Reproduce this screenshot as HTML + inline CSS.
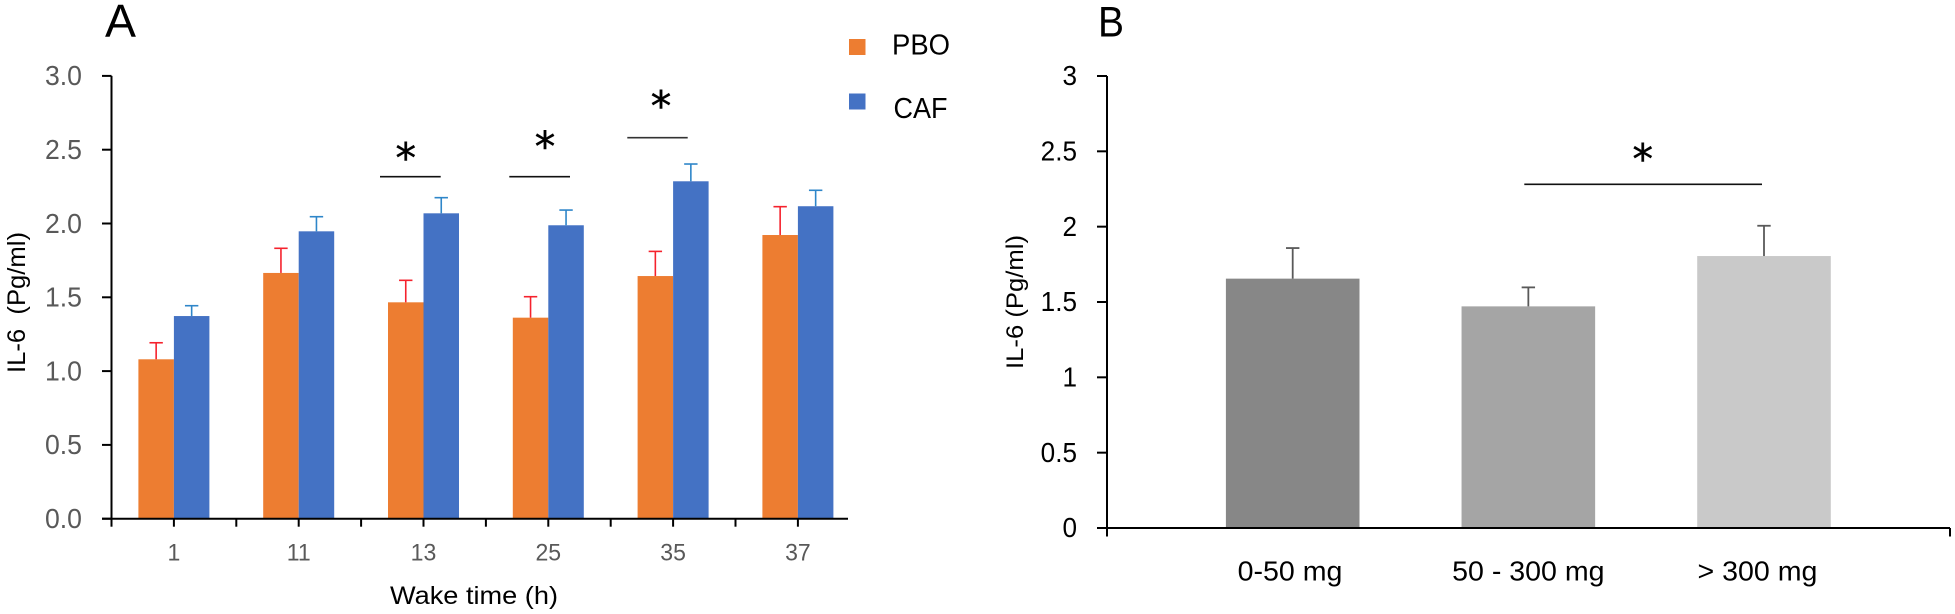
<!DOCTYPE html>
<html lang="en">
<head>
<meta charset="utf-8">
<title>IL-6 by wake time and caffeine dose</title>
<style>
  html, body { margin: 0; padding: 0; background: #fff; }
  body { width: 1955px; height: 614px; overflow: hidden; }
  svg { display: block; }
  text { font-family: "Liberation Sans", sans-serif; }
  text.star { font-family: "DejaVu Sans", sans-serif; stroke: #000; stroke-width: 0.5px; }
</style>
</head>
<body>
<svg id="figure" xmlns="http://www.w3.org/2000/svg" width="1955" height="614" viewBox="0 0 1955 614">
  <rect x="0" y="0" width="1955" height="614" fill="#ffffff"/>

  <g id="panel-a">
    <text x="105" y="37" font-size="46" textLength="31" lengthAdjust="spacingAndGlyphs" fill="#000">A</text>
    <text transform="translate(25,373) rotate(-90)" font-size="25" textLength="141" lengthAdjust="spacingAndGlyphs" fill="#000" xml:space="preserve">IL-6  (Pg/ml)</text>
    <text x="390" y="604" font-size="25" textLength="168" lengthAdjust="spacingAndGlyphs" fill="#000">Wake time (h)</text>
    <g>
      <rect x="849" y="39" width="16.5" height="16" fill="#ED7D31"/>
      <text x="892" y="54.5" font-size="29" textLength="58" lengthAdjust="spacingAndGlyphs" fill="#000">PBO</text>
      <rect x="849" y="93.5" width="16.5" height="16" fill="#4472C4"/>
      <text x="893.5" y="118" font-size="29" textLength="54" lengthAdjust="spacingAndGlyphs" fill="#000">CAF</text>
    </g>
    <line x1="380" x2="440.7" y1="176.7" y2="176.7" stroke="#111" stroke-width="1.6"/>
    <text class="star" x="405.7" y="172.4" font-size="41" text-anchor="middle" fill="#000">*</text>
    <line x1="509.3" x2="570" y1="176.7" y2="176.7" stroke="#111" stroke-width="1.6"/>
    <text class="star" x="545" y="161" font-size="41" text-anchor="middle" fill="#000">*</text>
    <line x1="627.3" x2="687.7" y1="137.7" y2="137.7" stroke="#333" stroke-width="1.6"/>
    <text class="star" x="661" y="120.4" font-size="41" text-anchor="middle" fill="#000">*</text>
  </g>

  <g id="panel-b">
    <text x="1098" y="36.7" font-size="43" textLength="26" lengthAdjust="spacingAndGlyphs" fill="#000">B</text>
    <text transform="translate(1023,369) rotate(-90)" font-size="24" textLength="134" lengthAdjust="spacingAndGlyphs" fill="#000">IL-6 (Pg/ml)</text>
    <line x1="1524.3" x2="1762" y1="184.3" y2="184.3" stroke="#111" stroke-width="1.6"/>
    <text class="star" x="1642.7" y="173.7" font-size="41" text-anchor="middle" fill="#000">*</text>
  </g>
</svg>

<script>
// Panel A data
const wakeCategories = ['1', '11', '13', '25', '35', '37'];
const pboValues = [1.08, 1.665, 1.466, 1.362, 1.644, 1.922];
const pboErrors = [0.112, 0.167, 0.149, 0.142, 0.167, 0.192];
const cafValues = [1.373, 1.947, 2.069, 1.988, 2.286, 2.117];
const cafErrors = [0.07, 0.099, 0.106, 0.103, 0.117, 0.108];
const wakeTickLabels = ['0.0', '0.5', '1.0', '1.5', '2.0', '2.5', '3.0'];

// Panel B data
const doseCategories = ['0-50 mg', '50 - 300 mg', '> 300 mg'];
const doseValues = [1.655, 1.471, 1.805];
const doseErrors = [0.203, 0.126, 0.201];
const doseTickLabels = ['0', '0.5', '1', '1.5', '2', '2.5', '3'];

const NS = 'http://www.w3.org/2000/svg';
const panelA = document.getElementById('panel-a');
const panelB = document.getElementById('panel-b');

function make(parent, tag, attrs, content) {
  const node = document.createElementNS(NS, tag);
  for (const key in attrs) node.setAttribute(key, attrs[key]);
  if (content !== undefined) node.textContent = content;
  parent.appendChild(node);
  return node;
}

// Axis functions
function yA(v) { return 518.7 - 147.6 * v; }
function yB(v) { return 528 - 150.67 * v; }
function bandA(v) { return 111.5 + 124.8 * v; }
function centerA(i) { return bandA(i + 0.5); }
function centerB(i) { return 1292.7 + 235.65 * i; }

const barWidthA = 35.5;
const barWidthB = 133.6;
const capHalf = 6.7;
const doseFills = ['#878787', '#A5A5A5', '#C9C9C9'];

function squeeze(node, ratio) {
  node.setAttribute('textLength', (node.getComputedTextLength() * ratio).toFixed(2));
  node.setAttribute('lengthAdjust', 'spacingAndGlyphs');
}

// ---------- Panel A ----------
wakeCategories.forEach(function (cat, i) {
  const c = centerA(i);

  const pboBar = make(panelA, 'rect', { x: c - barWidthA, y: yA(pboValues[i]), width: barWidthA, height: yA(0) - yA(pboValues[i]), fill: '#ED7D31' });
  
  

  const cafBar = make(panelA, 'rect', { x: c, y: yA(cafValues[i]), width: barWidthA, height: yA(0) - yA(cafValues[i]), fill: '#4472C4' });
  
  

  const pboX = c - barWidthA / 2;
  const pboTop = yA(pboValues[i] + pboErrors[i]);
  const pboStem = make(panelA, 'line', { x1: pboX, x2: pboX, y1: yA(pboValues[i]), y2: pboTop, stroke: '#F5222D', 'stroke-width': 1.6 });
  
  
  const pboCap = make(panelA, 'line', { x1: pboX - capHalf, x2: pboX + capHalf, y1: pboTop, y2: pboTop, stroke: '#F5222D', 'stroke-width': 1.6 });
  
  

  const cafX = c + barWidthA / 2;
  const cafTop = yA(cafValues[i] + cafErrors[i]);
  const cafStem = make(panelA, 'line', { x1: cafX, x2: cafX, y1: yA(cafValues[i]), y2: cafTop, stroke: '#2E86C9', 'stroke-width': 1.6 });
  
  
  const cafCap = make(panelA, 'line', { x1: cafX - capHalf, x2: cafX + capHalf, y1: cafTop, y2: cafTop, stroke: '#2E86C9', 'stroke-width': 1.6 });
  
  

  const xLabel = make(panelA, 'text', { x: c, y: 560.7, 'font-size': 24, 'text-anchor': 'middle', fill: '#595959' }, cat);
  
  
  squeeze(xLabel, 0.96);
});

const xAxisA = make(panelA, 'line', { x1: 102, x2: 848, y1: yA(0), y2: yA(0), stroke: '#000', 'stroke-width': 2 });



const yAxisA = make(panelA, 'line', { x1: 111.5, x2: 111.5, y1: yA(3), y2: yA(0), stroke: '#000', 'stroke-width': 2 });



for (let k = 0; k < wakeCategories.length * 2; k++) {
  const tx = bandA(k / 2);
  const xTick = make(panelA, 'line', { x1: tx, x2: tx, y1: yA(0), y2: yA(0) + 8, stroke: '#000', 'stroke-width': 2 });
  
  
}

wakeTickLabels.forEach(function (label) {
  const v = parseFloat(label);
  const yTick = make(panelA, 'line', { x1: 102, x2: 111.5, y1: yA(v), y2: yA(v), stroke: '#000', 'stroke-width': 2 });
  
  
  const yLabel = make(panelA, 'text', { x: 82, y: yA(v) + 9.3, 'font-size': 28, 'text-anchor': 'end', fill: '#595959' }, label);
  
  
  squeeze(yLabel, 0.95);
});

// ---------- Panel B ----------
doseCategories.forEach(function (cat, i) {
  const c = centerB(i);

  const bar = make(panelB, 'rect', { x: c - barWidthB / 2, y: yB(doseValues[i]), width: barWidthB, height: yB(0) - yB(doseValues[i]), fill: doseFills[i] });
  
  

  const top = yB(doseValues[i] + doseErrors[i]);
  const stem = make(panelB, 'line', { x1: c, x2: c, y1: yB(doseValues[i]), y2: top, stroke: '#595959', 'stroke-width': 1.8 });
  
  
  const cap = make(panelB, 'line', { x1: c - capHalf, x2: c + capHalf, y1: top, y2: top, stroke: '#595959', 'stroke-width': 1.8 });
  
  

  const xLabel = make(panelB, 'text', { x: c - (i === 0 ? 2.7 : i === 2 ? 6.5 : 0), y: 580.5, 'font-size': 28, 'text-anchor': 'middle', fill: '#000' }, cat);
  
  
  squeeze(xLabel, 1.02);
});

const xAxisB = make(panelB, 'line', { x1: 1097, x2: 1950, y1: yB(0), y2: yB(0), stroke: '#000', 'stroke-width': 2 });



const yAxisB = make(panelB, 'line', { x1: 1107, x2: 1107, y1: yB(3), y2: yB(0) + 8.5, stroke: '#000', 'stroke-width': 2 });



const xEndTick = make(panelB, 'line', { x1: 1950, x2: 1950, y1: yB(0), y2: yB(0) + 8.5, stroke: '#000', 'stroke-width': 2 });



doseTickLabels.forEach(function (label) {
  const v = parseFloat(label);
  const yTick = make(panelB, 'line', { x1: 1097, x2: 1107, y1: yB(v), y2: yB(v), stroke: '#000', 'stroke-width': 2 });
  
  
  const yLabel = make(panelB, 'text', { x: 1077, y: yB(v) + 9.2, 'font-size': 27.5, 'text-anchor': 'end', fill: '#000' }, label);
  
  
  squeeze(yLabel, 0.95);
});
</script>
</body>
</html>
